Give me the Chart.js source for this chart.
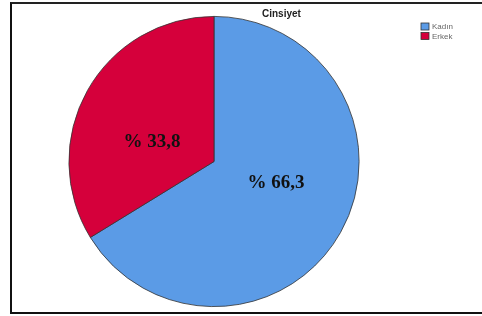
<!DOCTYPE html>
<html><head><meta charset="utf-8">
<script src="https://cdn.jsdelivr.net/npm/chart.js@4/dist/chart.umd.min.js"></script>
<style>
html,body{margin:0;padding:0;background:#fff;}
#wrap{position:relative;width:482px;height:316px;overflow:hidden;}
#frame{position:absolute;left:10px;top:2px;width:490px;height:308px;border-left:2px solid #111;border-top:2px solid #222;border-bottom:2px solid #111;}
canvas{position:absolute;left:0;top:0;}
</style></head>
<body>
<div id="wrap"><div id="frame"></div><canvas id="c" width="482" height="316"></canvas></div>
<script>
const title = "Cinsiyet";
const categories = ["Kadın", "Erkek"];
const values = [66.3, 33.8];
const valueLabels = ["% 66,3", "% 33,8"];
const colors = ["#5b9be6", "#d5003b"];

const overlay = {
  id: 'overlay',
  afterDatasetsDraw(chart) {
    const ctx = chart.ctx;
    const meta = chart.getDatasetMeta(0);
    ctx.save();
    ctx.fillStyle = '#111';
    ctx.font = 'bold 19px "Liberation Serif", "Times New Roman", serif';
    ctx.textAlign = 'center';
    ctx.textBaseline = 'middle';
    meta.data.forEach((arc, i) => {
      const p = arc.getProps(['x','y','startAngle','endAngle','outerRadius']);
      const a = (p.startAngle + p.endAngle) / 2 - 11 * Math.PI / 180;
      const r = p.outerRadius * 0.45;
      ctx.fillText(valueLabels[i], p.x + Math.cos(a) * r, p.y + Math.sin(a) * r + 1);
    });
    // title
    ctx.font = 'bold 10px "Liberation Sans", Arial, sans-serif';
    ctx.textAlign = 'left';
    ctx.textBaseline = 'alphabetic';
    ctx.fillStyle = '#222';
    ctx.fillText(title, 262, 17);
    // legend
    ctx.font = '8px "Liberation Sans", Arial, sans-serif';
    categories.forEach((c, i) => {
      const y = 23 + i * 9.5;
      ctx.fillStyle = colors[i];
      ctx.fillRect(421, y, 8, 7);
      ctx.strokeStyle = '#333';
      ctx.lineWidth = 0.8;
      ctx.strokeRect(421, y, 8, 7);
      ctx.fillStyle = '#666';
      ctx.textBaseline = 'middle';
      ctx.fillText(c, 432, y + 4);
    });
    ctx.restore();
  }
};

new Chart(document.getElementById('c'), {
  type: 'pie',
  data: {
    labels: categories,
    datasets: [{ data: values, backgroundColor: colors, borderColor: '#333', borderWidth: 0.8 }]
  },
  options: {
    responsive: false,
    animation: false,
    layout: { padding: { top: 16, bottom: 9, left: 68, right: 122 } },
    plugins: { legend: { display: false }, tooltip: { enabled: false }, title: { display: false } }
  },
  plugins: [overlay]
});
</script>
</body></html>
